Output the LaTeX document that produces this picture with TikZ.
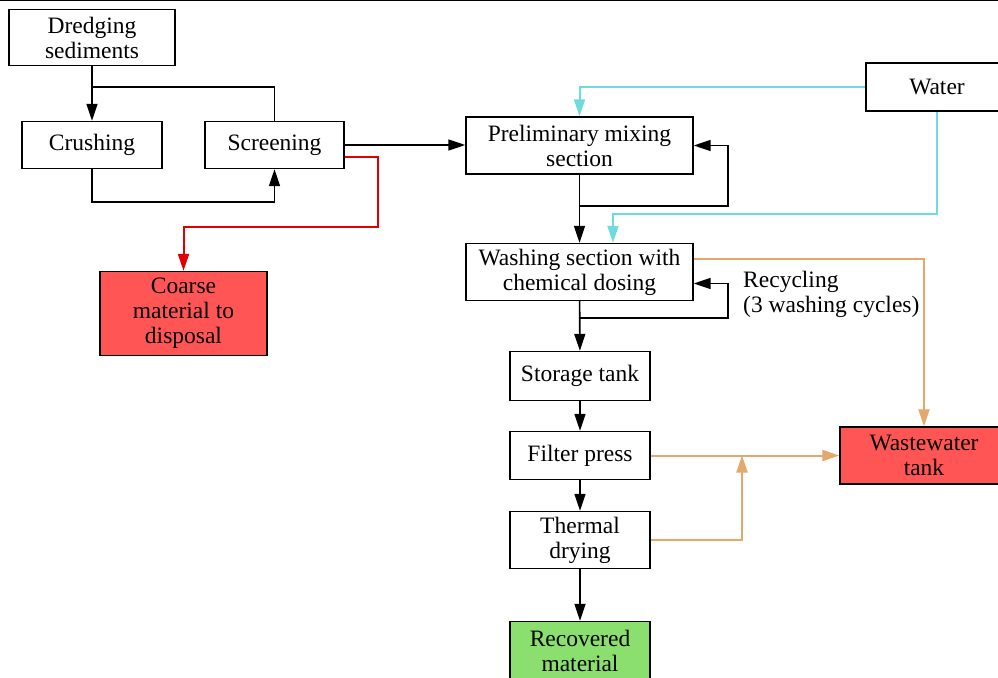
\documentclass[tikz,border=0pt]{standalone}
\usepackage{fontspec}
\setmainfont{Liberation Serif}
\usetikzlibrary{arrows.meta}
\definecolor{bad}{HTML}{FF5555}
\definecolor{good}{HTML}{8ADF6E}
\definecolor{wat}{HTML}{6EDCDC}
\definecolor{wst}{HTML}{E2A86C}
\definecolor{rej}{HTML}{E00000}
\newcommand\fsB{\fontsize{23.5}{25}\selectfont}
\begin{document}
\begin{tikzpicture}[x=1pt,y=-1pt,
  box/.style={draw,line width=1.4pt,align=center,font=\fsB,inner sep=0},
  note/.style={anchor=west,align=left,font=\fsB,inner sep=0},
  line/.style={line width=1.6pt},
  flow/.style={line width=1.6pt,-{Triangle[length=17pt,width=11pt]}},
  wline/.style={flow,wat,line width=2pt},
  oline/.style={flow,wst,line width=2pt},
  rline/.style={flow,rej,line width=2pt}]
\useasboundingbox (0,0) rectangle (998,677);
\clip (0,0) rectangle (998,677);
\draw[line width=1.5pt] (0,0.75) -- (998,0.75);
% ============ pre-treatment ============
\node[box,minimum width=166,minimum height=56] (dredge) at (92,37.5) {Dredging\\sediments};
\node[box,minimum width=140,minimum height=47] (crush) at (92,145) {Crushing};
\node[box,minimum width=139,minimum height=47] (screen) at (274.5,145) {Screening};
\node[box,fill=bad,minimum width=167,minimum height=84] (coarse) at (183.5,313.5) {Coarse\\material to\\disposal};
\coordinate (join) at (92,87);
\draw[flow] (dredge) -- (crush);
\draw[line] (screen.north) |- (join);
\draw[flow] (crush.south) -- ++(0,33) -| (screen.south);
\draw[rline] ([yshift=-12pt]screen.east) -- ++(33,0) |- ++(0,70) -| (coarse.north);
% ============ washing line ============
\node[box,minimum width=227,minimum height=57] (premix) at (579.5,145.5) {Preliminary mixing\\section};
\node[box,minimum width=142,minimum height=48] (water) at (937,87) {Water};
\node[box,minimum width=227,minimum height=57] (wash) at (579.5,272) {Washing section with\\chemical dosing};
\node[box,minimum width=140,minimum height=49] (store) at (580,376) {Storage tank};
\node[box,minimum width=140,minimum height=48] (filter) at (580,455.5) {Filter press};
\node[box,minimum width=140,minimum height=57] (dry) at (580,540) {Thermal\\drying};
\node[box,fill=good,minimum width=140,minimum height=58] (recov) at (580,650.5) {Recovered\\material};
\node[box,fill=bad,minimum width=168,minimum height=57] (waste) at (924,455.5) {Wastewater\\tank};
\node[note] (recyc) at (743,294) {Recycling\\(3 washing cycles)};
\draw[flow] (screen.east) -- (screen.east -| premix.west);
\draw[flow] (premix) -- (wash);
\draw[flow] ([yshift=-31pt]premix.south) -| ([xshift=34pt]premix.east) -- (premix.east);
\draw[flow] (wash) -- (store);
\draw[flow] ([yshift=-17pt]wash.south) -| ([xshift=34pt,yshift=-11.5pt]wash.east) -- ([yshift=-11.5pt]wash.east);
\draw[flow] (store) -- (filter);
\draw[flow] (filter) -- (dry);
\draw[flow] (dry) -- (recov);
% water supply
\draw[wline] (water.west) -| (premix.north);
\draw[wline] (water.south) -- ++(0,102) -| ([xshift=33.5pt]wash.north);
% wastewater
\coordinate (tee) at (742,455.5);
\draw[oline] ([yshift=13.5pt]wash.east) -| (waste.north);
\draw[oline] (filter.east) -- (filter.east -| waste.west);
\draw[oline] (dry.east) -| (tee);
\end{tikzpicture}
\end{document}
